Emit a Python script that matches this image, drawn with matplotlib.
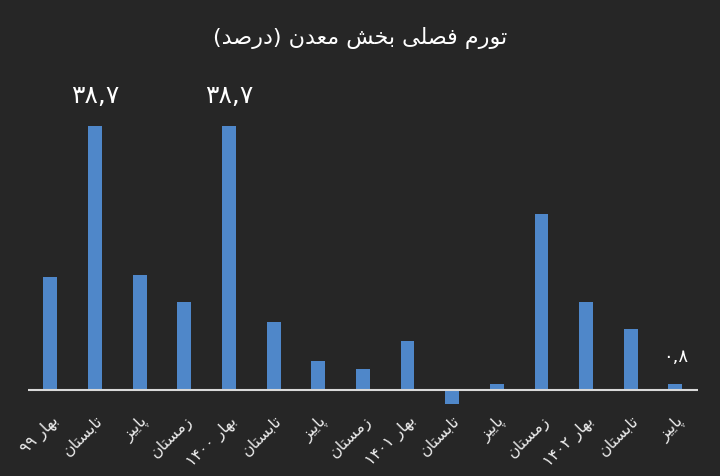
import re
import matplotlib
matplotlib.use('Agg')
import matplotlib.pyplot as plt

plt.rcParams['font.family'] = ['DejaVu Sans']

# داده‌ها (تورم فصلی بخش معدن، درصد)
seasons = ['بهار ۹۹', 'تابستان', 'پاییز', 'زمستان',
           'بهار ۱۴۰۰', 'تابستان', 'پاییز', 'زمستان',
           'بهار ۱۴۰۱', 'تابستان', 'پاییز', 'زمستان',
           'بهار ۱۴۰۲', 'تابستان', 'پاییز']
values = [16.6, 38.7, 16.9, 12.9, 38.7, 10.0, 4.3, 3.1,
          7.2, -2.1, 0.9, 25.8, 12.9, 8.9, 0.8]
labeled = [1, 4, 14]  # میله‌هایی که عدد دارند
title = 'تورم فصلی بخش معدن (درصد)'

# شکل‌دهی ساده حروف فارسی (matplotlib خودش این کار را نمی‌کند)
FORMS = {
    'ا': ('\uFE8D', '\uFE8E', None, None),
    'ب': ('\uFE8F', '\uFE90', '\uFE91', '\uFE92'),
    'پ': ('\uFB56', '\uFB57', '\uFB58', '\uFB59'),
    'ت': ('\uFE95', '\uFE96', '\uFE97', '\uFE98'),
    'خ': ('\uFEA5', '\uFEA6', '\uFEA7', '\uFEA8'),
    'د': ('\uFEA9', '\uFEAA', None, None),
    'ر': ('\uFEAD', '\uFEAE', None, None),
    'ز': ('\uFEAF', '\uFEB0', None, None),
    'س': ('\uFEB1', '\uFEB2', '\uFEB3', '\uFEB4'),
    'ش': ('\uFEB5', '\uFEB6', '\uFEB7', '\uFEB8'),
    'ص': ('\uFEB9', '\uFEBA', '\uFEBB', '\uFEBC'),
    'ع': ('\uFEC9', '\uFECA', '\uFECB', '\uFECC'),
    'ف': ('\uFED1', '\uFED2', '\uFED3', '\uFED4'),
    'ل': ('\uFEDD', '\uFEDE', '\uFEDF', '\uFEE0'),
    'م': ('\uFEE1', '\uFEE2', '\uFEE3', '\uFEE4'),
    'ن': ('\uFEE5', '\uFEE6', '\uFEE7', '\uFEE8'),
    'ه': ('\uFEE9', '\uFEEA', '\uFEEB', '\uFEEC'),
    'و': ('\uFEED', '\uFEEE', None, None),
    'ی': ('\uFBFC', '\uFBFD', '\uFBFE', '\uFBFF'),
}
DIGITS = '۰۱۲۳۴۵۶۷۸۹'


def shape(text):
    out = []
    for i, ch in enumerate(text):
        if ch not in FORMS:
            out.append(ch)
            continue
        prev = text[i - 1] if i > 0 else None
        nxt = text[i + 1] if i + 1 < len(text) else None
        join_prev = prev in FORMS and FORMS[prev][2] is not None
        join_next = nxt in FORMS and FORMS[ch][2] is not None
        iso, fin, ini, med = FORMS[ch]
        if join_prev and join_next:
            out.append(med)
        elif join_prev:
            out.append(fin)
        elif join_next:
            out.append(ini)
        else:
            out.append(iso)
    return ''.join(out)


def rtl(text):
    s = shape(text)
    runs = re.findall('[' + DIGITS + ',]+|[^' + DIGITS + ',]+', s)
    mirror = str.maketrans('()', ')(')
    out = []
    for r in reversed(runs):
        if r[0] in DIGITS:
            out.append(r)
        else:
            out.append(r[::-1].translate(mirror))
    return ''.join(out)


def fa_num(v):
    s = f'{v:.1f}'.replace('.', ',').replace('-', '')
    return ''.join(DIGITS[int(c)] if c.isdigit() else c for c in s)


bg = '#262626'
bar_color = '#4f87c9'

fig = plt.figure(figsize=(7.2, 4.77), dpi=100, facecolor=bg)
ax = fig.add_axes([0.039, 0.1405, 0.93, 0.65], facecolor=bg)

x = list(range(len(values)))
ax.bar(x, values, width=0.31, color=bar_color, zorder=2)
ax.axhline(0, color='#d9d9d9', linewidth=1.5, zorder=3)

ax.set_xlim(-0.5, 14.5)
ax.set_ylim(-2.79, 42.67)

ax.set_xticks(x)
ax.set_xticklabels([rtl(s) for s in seasons], rotation=45, ha='right',
                   va='top', rotation_mode='anchor', fontsize=11.5,
                   color='#ececec')
ax.tick_params(axis='x', length=0, pad=2)
ax.set_yticks([])
for sp in ax.spines.values():
    sp.set_visible(False)

for i in labeled:
    size = 18 if values[i] > 10 else 13
    ax.annotate(fa_num(values[i]), (i, values[i]), xytext=(0, 14),
                textcoords='offset points', ha='center', va='bottom',
                fontsize=size, color='white')

fig.text(0.5, 0.92, rtl(title), ha='center', va='center', fontsize=16,
         color='white')

fig.savefig('out.png', dpi=100, facecolor=bg)
